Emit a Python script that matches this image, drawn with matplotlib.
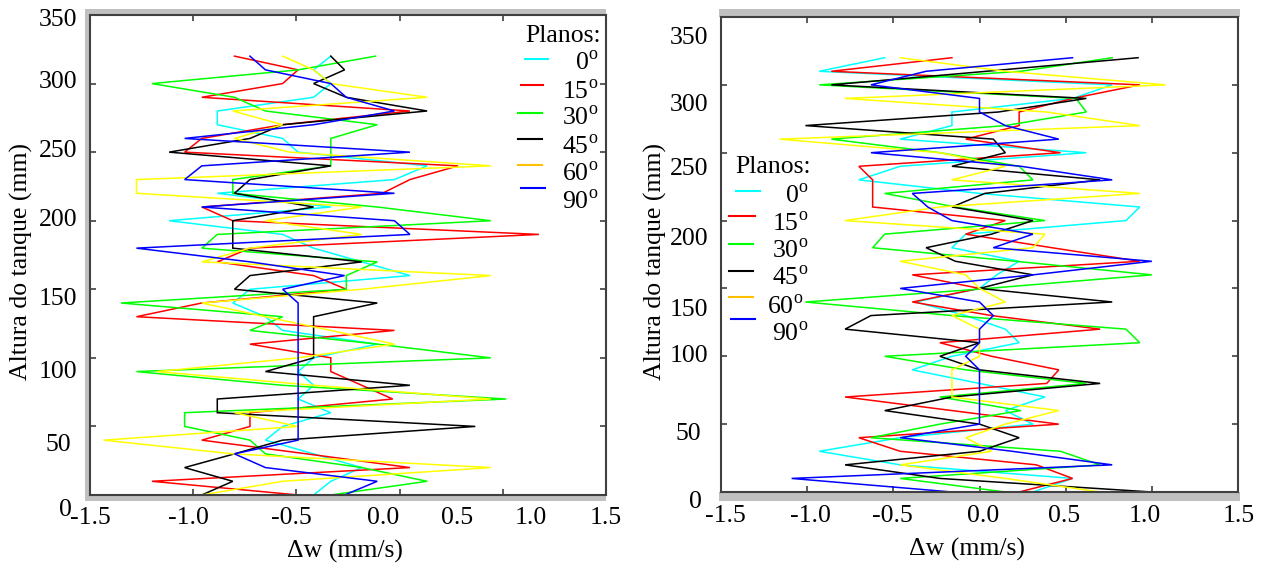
#!/usr/bin/env python
# coding: utf-8
"""
Two panels: velocity difference vs tank height for six measuring planes
"""

import matplotlib.pyplot as plt
from matplotlib.lines import Line2D
from matplotlib.patches import Rectangle
from matplotlib.transforms import Affine2D

# heights of the measured points, top to bottom
heights = [320, 310, 300, 290, 280, 270, 260, 250, 240, 230, 220, 210, 200, 190, 180, 170, 160,
           150, 140, 130, 120, 110, 100, 90, 80, 70, 60, 50, 40, 30, 20, 10, 0]

# left panel
left_0 = [-0.10, -0.20, -0.10, -0.20, -0.76, -0.76, -0.38, -0.29, 0.46, 0.27, -0.76, -0.10, -1.04, -0.38, -0.20, 0.08, 0.36,
          -0.57, -0.67, -0.48, -0.38, 0.17, -0.20, -0.29, -0.20, -0.29, -0.10, -0.38, -0.48, -0.20, 0.08, -0.10, -0.20]
left_15 = [-0.66, -0.29, -0.38, -0.85, 0.36, -0.38, -0.85, -0.95, 0.64, 0.36, 0.20, -0.85, -0.67, 1.11, -0.57, -0.76, -0.20,
           -0.01, -0.85, -1.23, 0.27, -0.57, -0.10, -0.10, 0.08, 0.26, -0.57, -0.57, -0.85, -0.24, 0.36, -1.14, -0.29]
left_30 = [0.16, -0.29, -1.14, -0.66, -0.48, 0.17, -0.10, -0.10, -0.10, -0.67, -0.67, 0.17, 0.83, -0.76, -0.85, 0.17, -0.01,
           -0.01, -1.32, -0.38, -0.57, 0.17, 0.83, -1.23, -0.38, 0.92, -0.95, -0.95, -0.57, -0.48, 0.08, 0.46, -0.10]
left_45 = [-0.10, -0.02, -0.20, -0.01, 0.46, -0.38, -0.57, -1.04, -0.10, -0.57, -0.66, -0.20, -0.67, -0.67, -0.67, 0.08, -0.57,
           -0.66, 0.17, -0.20, -0.20, -0.20, -0.20, -0.48, 0.36, -0.76, -0.76, 0.74, -0.38, -0.66, -0.95, -0.67, -0.85]
left_60 = [-0.38, -0.20, -0.10, 0.46, -0.67, -0.38, -0.66, -0.34, 0.83, -1.23, -1.23, 0.08, -0.48, 0.08, -0.57, -0.85, 0.83,
           0.08, -0.85, -0.48, -0.10, 0.27, -0.29, -1.11, -0.20, 0.83, -0.66, -0.29, -1.42, -0.67, 0.83, -0.38, -0.85]
left_90 = [-0.57, -0.48, -0.10, -0.01, 0.27, -0.20, -0.95, 0.36, -0.85, -0.95, 0.27, -0.85, 0.27, 0.36, -1.23, -0.57, -0.02,
           -0.38, -0.29, -0.29, -0.29, -0.29, -0.29, -0.29, -0.29, -0.29, -0.29, -0.29, -0.29, -0.66, -0.48, 0.17, -0.02]

# right panel
right_0 = [-0.55, -0.93, 0.77, 0.54, -0.16, -0.16, -0.46, 0.62, -0.46, -0.70, 0.00, 0.93, 0.85, -0.08, -0.16, 0.23, 0.10,
           0.00, -0.37, -0.08, 0.15, 0.23, -0.16, -0.39, 0.00, 0.38, 0.15, 0.31, -0.46, -0.93, -0.46, 0.54, 0.31]
right_15 = [-0.16, -0.86, 0.93, 0.54, 0.23, 0.23, -0.08, 0.47, -0.70, -0.62, -0.62, -0.62, 0.15, -0.08, 0.42, 0.93, -0.39,
            0.00, -0.39, 0.07, 0.70, -0.23, 0.07, 0.46, 0.39, -0.78, -0.16, 0.46, -0.70, -0.46, 0.33, 0.54, 0.23]
right_30 = [0.77, 0.24, -0.93, 0.56, 0.62, 0.15, -0.86, -0.23, 0.23, 0.31, -0.55, -0.14, 0.38, -0.55, -0.62, 0.21, 1.00,
            0.05, -1.01, -0.16, 0.85, 0.93, -0.55, -0.08, 0.62, -0.23, 0.24, -0.23, -0.63, 0.47, 0.70, -0.46, 0.15]
right_45 = [0.92, 0.04, -0.86, 0.62, 0.11, -1.01, 0.08, 0.15, -0.16, 0.70, 0.03, -0.16, 0.31, 0.07, -0.31, -0.14, 0.31,
            0.00, 0.77, -0.63, -0.78, 0.00, -0.23, 0.00, 0.70, -0.16, -0.55, 0.00, 0.23, 0.00, -0.78, -0.23, 1.00]
right_60 = [-0.46, 0.15, 1.08, -0.78, 0.39, 0.93, -1.16, -0.23, 0.15, -0.16, 0.93, -0.23, -0.78, 0.38, 0.31, -0.46, -0.08,
            0.00, 0.15, -0.16, 0.00, 0.00, 0.00, -0.16, -0.16, -0.16, 0.46, 0.15, -0.08, 0.07, -0.46, 0.15, 0.70]
right_90 = [0.54, -0.31, -0.63, 0.00, 0.00, 0.15, 0.46, -0.63, 0.24, 0.77, -0.39, -0.30, -0.16, 0.31, 0.08, 1.00, 0.31,
            -0.46, 0.00, 0.08, 0.00, 0.00, -0.08, 0.00, 0.00, 0.00, 0.00, 0.00, -0.46, 0.19, 0.77, -1.09, -0.16]

plane_names = ["0", "15", "30", "45", "60", "90"]
x_tick_values = [-1.5, -1.0, -0.5, 0.0, 0.5, 1.0, 1.5]
x_tick_labels = ["-1.5", "-1.0", "-0.5", "0.0", "0.5", "1.0", "1.5"]
y_tick_values = [0, 50, 100, 150, 200, 250, 300, 350]
y_tick_labels = ["0", "50", "100", "150", "200", "250", "300", "350"]
# the left panel has six tick marks under seven labels
left_x_marks = [-1.5, -0.9, -0.3, 0.3, 0.9, 1.5]

W, H = 1265, 570
LINE_COLORS = ["#00FFFF", "#FF0000", "#00FF00", "#000000", "#FFFF00", "#0000FF"]
LEGEND_COLORS = ["#00FFFF", "#FF0000", "#00FF00", "#000000", "#FFC000", "#0000FF"]
GREY = "#C0C0C0"
FRAME = "#404040"
FONT = 18.5

plt.rcParams["font.family"] = ["Liberation Serif", "DejaVu Sans"]
plt.rcParams["mathtext.fontset"] = "custom"
plt.rcParams["mathtext.rm"] = "Liberation Serif"


def add_px_axes(fig, left, top, right, bottom):
    return fig.add_axes([left / W, 1 - bottom / H, (right - left) / W, (bottom - top) / H])


def grey_band(fig, left, top, right, bottom):
    fig.add_artist(Rectangle((left / W, 1 - bottom / H), (right - left) / W, (bottom - top) / H,
                             transform=fig.transFigure, color=GREY, lw=0, zorder=-1))


def shift_labels(labels, dx, dy):
    # the labels of the original figure sit off their ticks
    for label, shift_x, shift_y in zip(labels, dx, dy):
        label.set_transform(label.get_transform() + Affine2D().translate(shift_x, shift_y))


def draw_panel(ax, series, x_marks, x_dx, x_dy, y_dx, y_dy):
    for values, color in zip(series, LINE_COLORS):
        ax.plot(values, heights, color=color, lw=1.1, solid_joinstyle="miter")
    ax.set_xlim(-1.5, 1.5)
    ax.set_ylim(0, 350)
    ax.set_xticks(x_tick_values, x_tick_labels)
    ax.set_yticks(y_tick_values, y_tick_labels)
    ax.tick_params(axis="x", which="major", length=0 if x_marks else 4, width=1.2, direction="in", top=True,
                   color=FRAME, labelsize=FONT, pad=9)
    ax.tick_params(axis="y", which="major", length=4, width=1.2, direction="in", right=True,
                   color=FRAME, labelsize=FONT, pad=9)
    if x_marks:
        ax.set_xticks(x_marks, minor=True)
        ax.tick_params(axis="x", which="minor", length=4, width=1.2, direction="in", top=True, color=FRAME)
    for spine in ax.spines.values():
        spine.set_color(FRAME)
        spine.set_linewidth(1.5)
    shift_labels(ax.get_xticklabels(), x_dx, x_dy)
    shift_labels(ax.get_yticklabels(), y_dx, y_dy)


def draw_legend(fig, title_xy, line_px, label_px):
    fig.text(title_xy[0] / W, 1 - title_xy[1] / H, "Planos:", fontsize=FONT, ha="center", va="center")
    for name, color, (x0, x1, y), (tx, ty) in zip(plane_names, LEGEND_COLORS, line_px, label_px):
        fig.add_artist(Line2D([x0 / W, x1 / W], [1 - y / H, 1 - y / H], color=color, lw=1.5,
                              transform=fig.transFigure))
        fig.text(tx / W, 1 - ty / H, name + r"$^{\mathrm{o}}$", fontsize=FONT, ha="right", va="center")


fig = plt.figure(figsize=(W / 100, H / 100), dpi=100)

# grey borders of the two graph windows
grey_band(fig, 85, 9, 606, 15)
grey_band(fig, 85, 9, 90, 501)
grey_band(fig, 85, 495, 606, 501)
grey_band(fig, 719, 9, 1240, 17)
grey_band(fig, 719, 492, 1240, 501)

ax_left = add_px_axes(fig, 90, 15, 606, 495)
draw_panel(ax_left, [left_0, left_15, left_30, left_45, left_60, left_90], left_x_marks,
           [0, 12, 29, 35, 23, 11, 0], [0, 0, 0, 0, 0, 0, 0],
           [-6, -6, 0, 0, 0, 0, 0, 0], [-12, -16, -12, -7, 3, 4, 4, -3])

ax_right = add_px_axes(fig, 721, 17, 1238, 492)
draw_panel(ax_right, [right_0, right_15, right_30, right_45, right_60, right_90], None,
           [4, 3, -1, 4, -2, -7, 1], [0, 0, 0, 0, 0, 0, 0],
           [-7, -7, 0, 0, 0, 0, 0, 0], [-7, -7, 3, -19, -16, -14, -18, -18])

fig.text(21 / W, 1 - 262 / H, "Altura do tanque (mm)", fontsize=FONT, rotation=90, ha="center", va="center")
fig.text(655 / W, 1 - 262 / H, "Altura do tanque (mm)", fontsize=FONT, rotation=90, ha="center", va="center")
fig.text(345 / W, 1 - 551 / H, "\u0394w (mm/s)", fontsize=FONT, ha="center", va="center")
fig.text(967 / W, 1 - 549 / H, "\u0394w (mm/s)", fontsize=FONT, ha="center", va="center")

draw_legend(fig, (563, 36),
            [(525, 548, 59), (521, 543, 85), (518, 542, 113), (518, 542, 139), (518, 542, 165), (521, 545, 188)],
            [(598, 63), (598, 92), (598, 118), (598, 147), (598, 174), (598, 202)])
draw_legend(fig, (773, 167),
            [(736, 760, 191), (729, 755, 216), (729, 753, 244), (729, 753, 271), (729, 753, 297), (731, 755, 319)],
            [(808, 196), (808, 224), (808, 251), (808, 278), (803, 307), (808, 334)])

fig.savefig("out.png", dpi=100)
